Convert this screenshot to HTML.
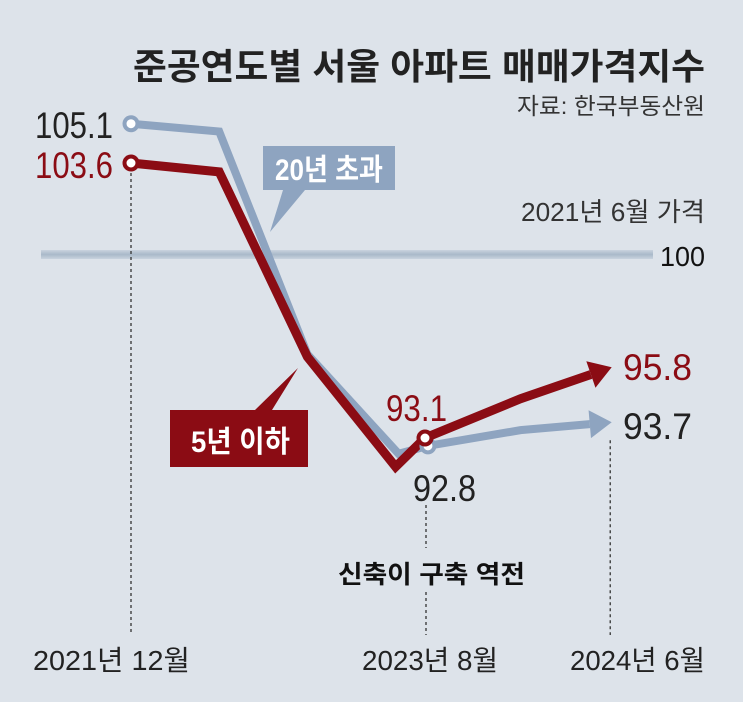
<!DOCTYPE html>
<html><head><meta charset="utf-8"><style>
body{margin:0;background:#dde3ea;}
svg{display:block;font-family:"Liberation Sans","Noto Sans CJK KR",sans-serif;}
</style></head><body>
<svg width="743" height="702" viewBox="0 0 743 702">
<defs>
<linearGradient id="g100" x1="0" y1="0" x2="0" y2="1"><stop offset="0" stop-color="#c9d3de"/><stop offset="0.5" stop-color="#a9b9c9"/><stop offset="1" stop-color="#c9d3de"/></linearGradient>
</defs>
<rect width="743" height="702" fill="#dde3ea"/>
<text x="133" y="79" font-size="36" font-weight="bold" fill="#222" textLength="572" lengthAdjust="spacingAndGlyphs">준공연도별 서울 아파트 매매가격지수</text>
<text x="517" y="114" font-size="23" fill="#333" textLength="188" lengthAdjust="spacingAndGlyphs">자료: 한국부동산원</text>
<text x="521" y="221" font-size="26" fill="#333" textLength="184" lengthAdjust="spacingAndGlyphs">2021년 6월 가격</text>
<rect x="41" y="250" width="612" height="9" fill="url(#g100)"/>
<text x="660" y="266" font-size="28" fill="#111" textLength="45" lengthAdjust="spacingAndGlyphs">100</text>
<g id="vlines"></g>
<g id="series"></g>
<g id="labels"></g>
<polygon points="263,146 395,146 395,190 305,190 270,232 283,190 263,190" fill="#8ea4c0"/>
<text x="275" y="180" font-size="30" font-weight="bold" fill="#fff" textLength="108" lengthAdjust="spacingAndGlyphs">20년 초과</text>
<polygon points="170,410 255,410 298,368 272,410 308,410 308,467 170,467" fill="#8b0c14"/>
<text x="191" y="452" font-size="30" font-weight="bold" fill="#fff" textLength="99" lengthAdjust="spacingAndGlyphs">5년 이하</text>
<text x="338" y="583" font-size="25" font-weight="bold" fill="#111" textLength="187" lengthAdjust="spacingAndGlyphs">신축이 구축 역전</text>
<text x="33" y="670" font-size="28" fill="#222" textLength="157" lengthAdjust="spacingAndGlyphs">2021년 12월</text>
<text x="362" y="670" font-size="28" fill="#222" textLength="136" lengthAdjust="spacingAndGlyphs">2023년 8월</text>
<text x="570" y="670" font-size="28" fill="#222" textLength="135" lengthAdjust="spacingAndGlyphs">2024년 6월</text>
</svg>
<script>
const redT=[0,6,12,18,20,26.5,32.7];
const redV=[103.6,103.26,96.2,92.0,93.1,94.6,95.8];
const blueT=[0,6,12,18.2,20.2,26.5,32.7];
const blueV=[105.1,104.8,96.3,92.5,92.8,93.4,93.7];
const guideT=[0,20,32.6];
const x=t=>131+t*14.7;
const y=v=>163+(103.6-v)*26.19;
const NS="http://www.w3.org/2000/svg";
function mk(tag,attrs,parent){const e=document.createElementNS(NS,tag);for(const k in attrs)e.setAttribute(k,attrs[k]);document.getElementById(parent).appendChild(e);return e;}
let g0=mk('line',{x1:x(guideT[0]),y1:y(103.6)+10,x2:x(guideT[0]),y2:635,stroke:'#333','stroke-width':1.3,'stroke-dasharray':'3,3'},'vlines');


let g1=mk('line',{x1:x(guideT[1])+1,y1:505,x2:x(guideT[1])+1,y2:548,stroke:'#333','stroke-width':1.3,'stroke-dasharray':'3,3'},'vlines');


let g1b=mk('line',{x1:x(guideT[1])+1,y1:592,x2:x(guideT[1])+1,y2:635,stroke:'#333','stroke-width':1.3,'stroke-dasharray':'3,3'},'vlines');


let g2=mk('line',{x1:x(guideT[2]),y1:y(93.7)+18,x2:x(guideT[2]),y2:635,stroke:'#333','stroke-width':1.3,'stroke-dasharray':'3,3'},'vlines');


function series(T,V,color,w,name){
  const n=T.length;
  const pts=T.map((t,i)=>[x(t),y(V[i])]);
  const [ax,ay]=pts[n-2],[bx,by]=pts[n-1];
  const L=Math.hypot(bx-ax,by-ay),ux=(bx-ax)/L,uy=(by-ay)/L;
  const hl=22,hw=14;
  const end=[bx-ux*hl,by-uy*hl];
  const d=pts.slice(0,n-1).concat([end]).map(p=>p.join(',')).join(' ');
  const pl=mk('polyline',{points:d,fill:'none',stroke:color,'stroke-width':w,'stroke-linejoin':'miter'},'series');
  
  
  const px=-uy,py=ux;
  const head=mk('polygon',{points:`${bx},${by} ${end[0]+px*hw},${end[1]+py*hw} ${end[0]-px*hw},${end[1]-py*hw}`,fill:color},'series');
  
  
  return pts;
}
const bp=series(blueT,blueV,'#8ea4c0',8,'over20');
const rp=series(redT,redV,'#8b0c14',9,'under5');
function dot(p,color,name){const c=mk('circle',{cx:p[0],cy:p[1],r:6.5,fill:'#fff',stroke:color,'stroke-width':4},'series');

}
dot(bp[0],'#8ea4c0','over20-start-dot');
dot(bp[4],'#8ea4c0','over20-2023-dot');
dot(rp[0],'#8b0c14','under5-start-dot');
dot(rp[4],'#8b0c14','under5-2023-dot');
function lab(tx,xx,yy,w,color,name){const t=mk('text',{x:xx,y:yy,'font-size':37,fill:color,textLength:w,lengthAdjust:'spacingAndGlyphs'},'labels');t.textContent=tx;

}
lab(blueV[0].toFixed(1),35,138,78,'#222','label-over20-start');
lab(redV[0].toFixed(1),35,178,78,'#8b0c14','label-under5-start');
lab(redV[4].toFixed(1),386,421,61,'#8b0c14','label-under5-2023');
lab(blueV[4].toFixed(1),413,501,63,'#222','label-over20-2023');
lab(redV[6].toFixed(1),623,380,69,'#8b0c14','label-under5-end');
lab(blueV[6].toFixed(1),623,439,69,'#222','label-over20-end');
</script>
</body></html>
